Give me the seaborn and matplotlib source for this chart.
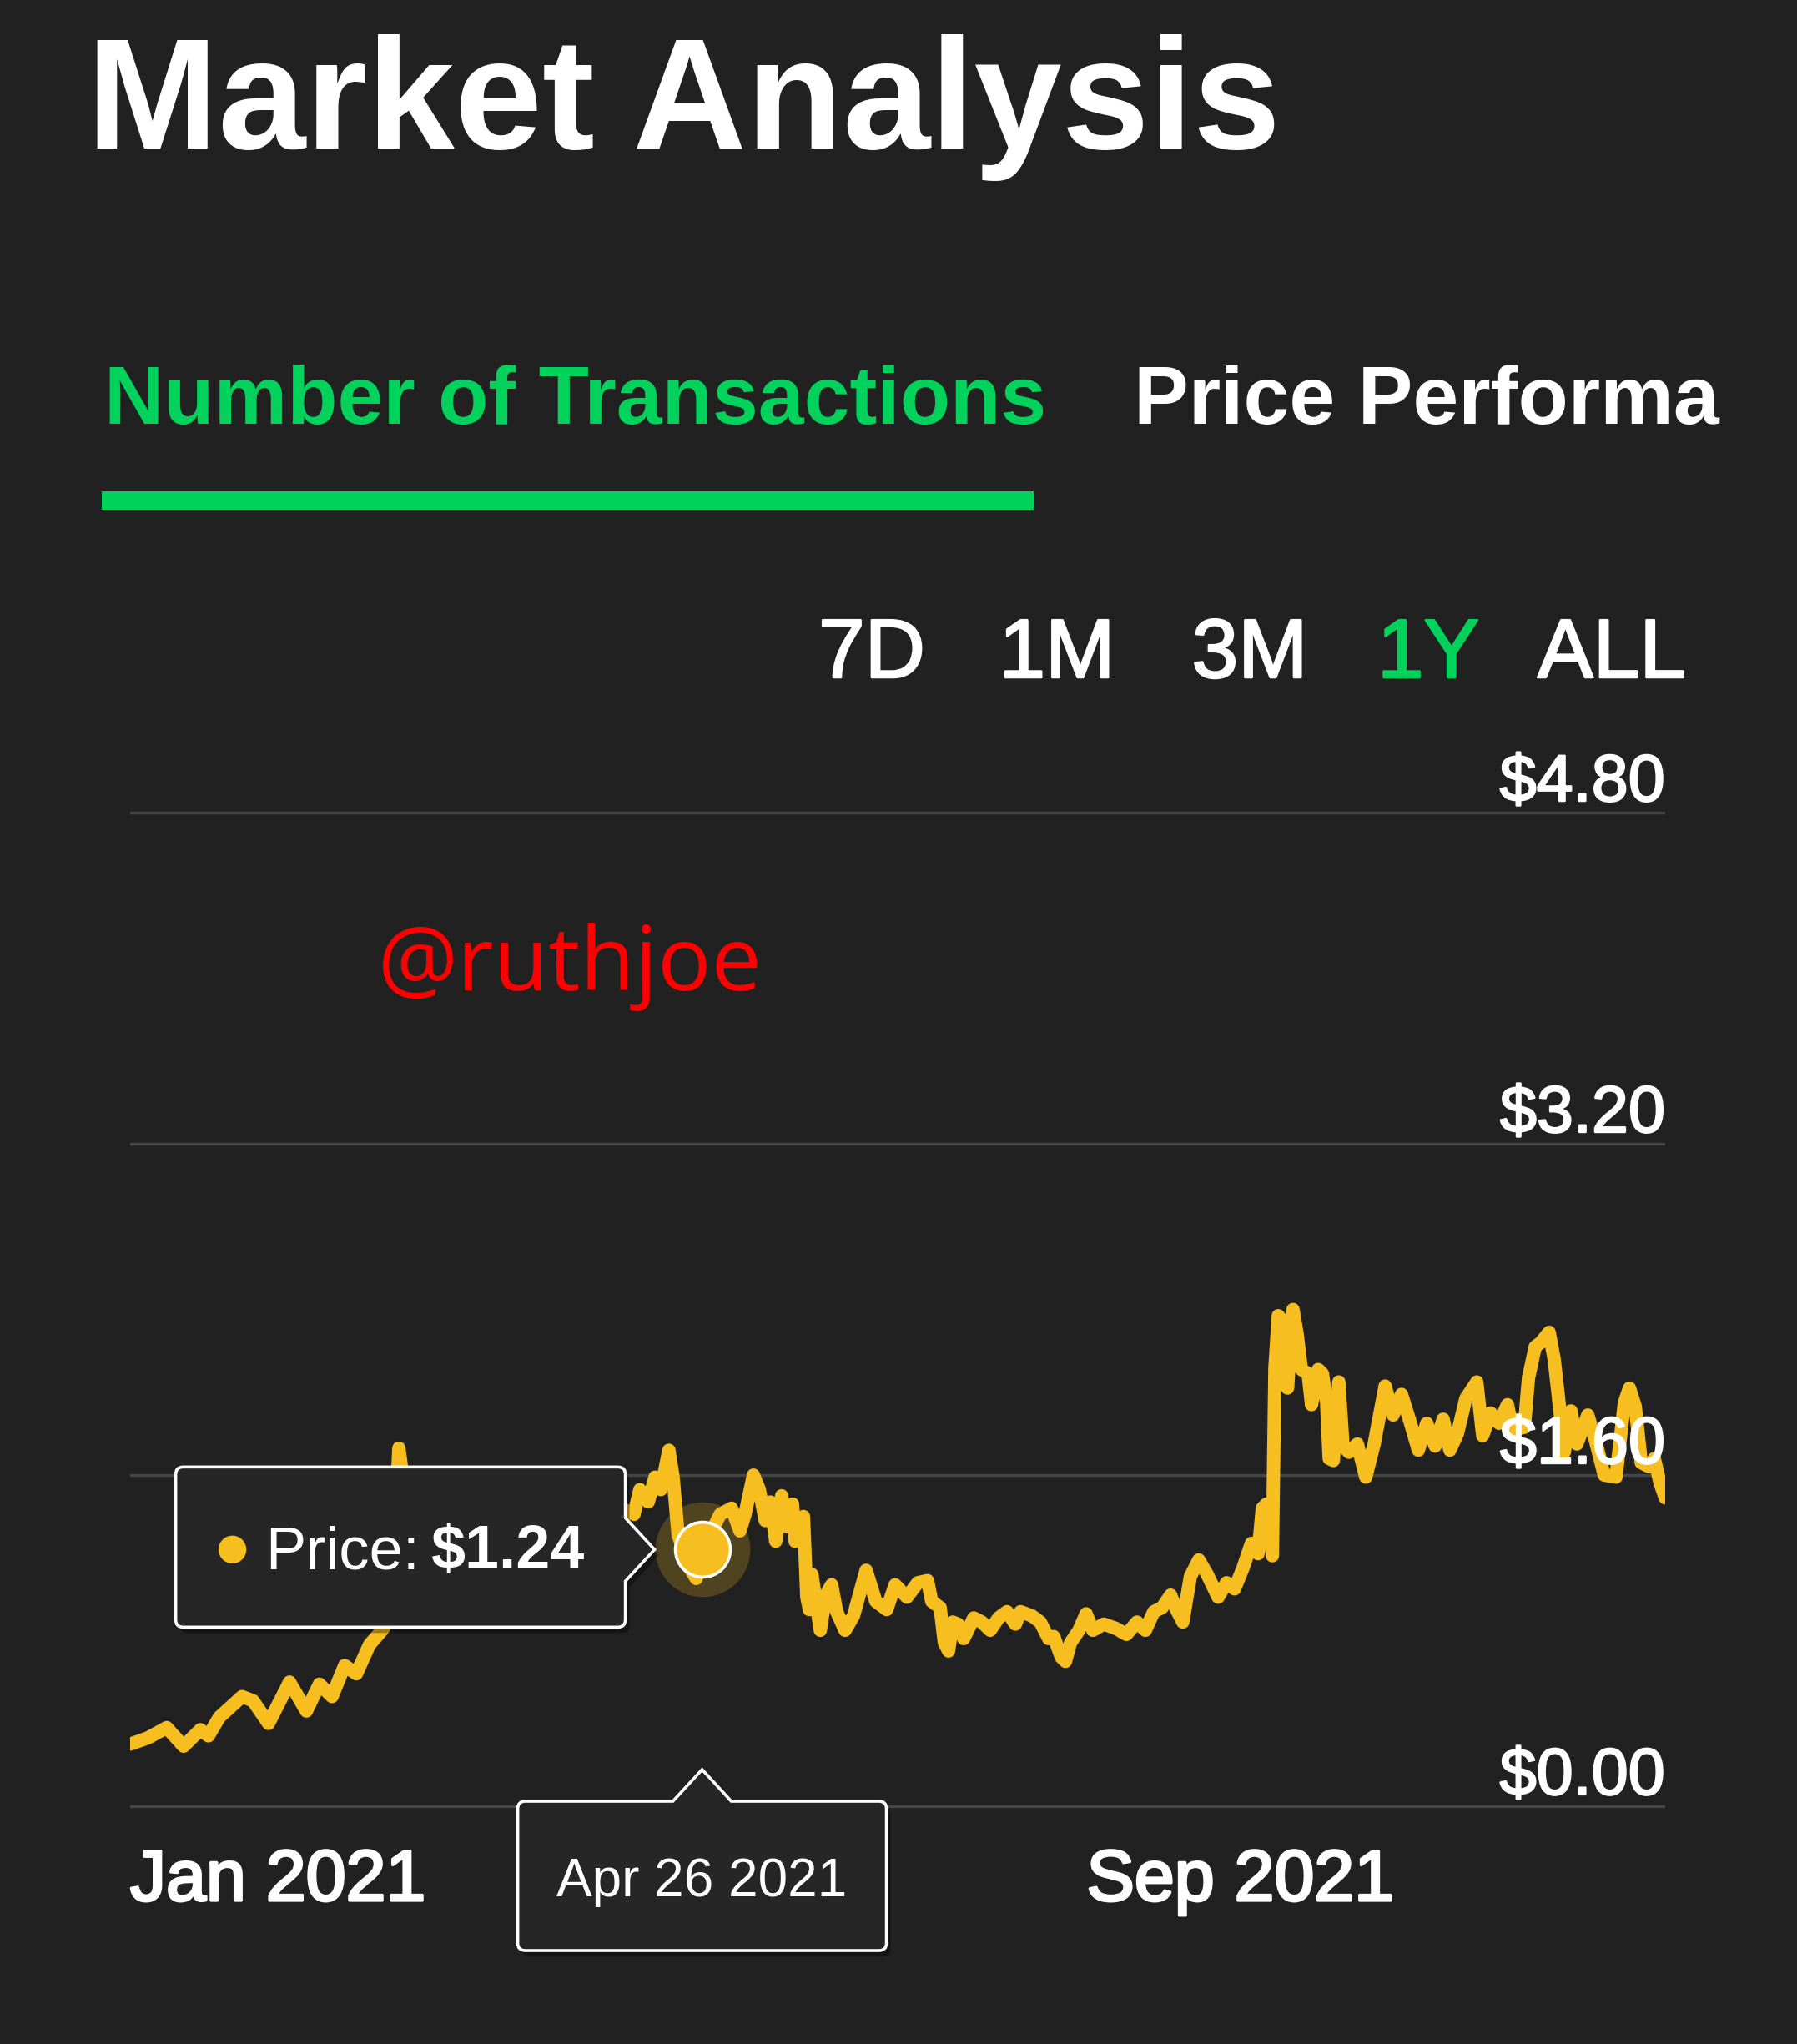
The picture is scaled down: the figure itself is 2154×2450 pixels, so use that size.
import pandas as pd
import matplotlib
matplotlib.use("Agg")
import matplotlib.pyplot as plt
import matplotlib.patheffects as pe
from matplotlib.path import Path
from matplotlib.patches import PathPatch, Rectangle, Circle
from matplotlib.transforms import offset_copy
import seaborn as sns

# values: days after the first point, price in USD
start_date = "2020-12-11"
days = [0, 4.2, 8.7, 12.7, 16.7, 18.6, 21.2, 26.6, 29.2, 32.9, 37.9, 41.9, 45.0, 48.0,
        51.0, 53.8, 56.9, 60.3, 61.9, 63.1, 63.9, 64.9, 66.3, 69.2, 72.2, 76.2, 80.1,
        85.1, 90.1, 96.0, 101.0, 105.9, 110.9, 115.8, 119.8, 121.2, 123.2, 124.8, 126.2,
        128.1, 129.1, 130.3, 133.1, 134.6, 136.0, 138.3, 140.3, 143.0, 145.0, 146.2,
        148.2, 149.6, 151.0, 152.2, 153.5, 154.9, 156.1, 157.5, 158.1, 160.1, 160.9,
        161.5, 162.1, 164.1, 165.4, 166.8, 168.0, 170.0, 172.0, 175.0, 177.3, 179.9,
        181.9, 184.7, 187.3, 189.6, 190.6, 192.6, 193.6, 194.6, 195.6, 196.8, 198.2,
        200.6, 202.5, 204.5, 206.5, 208.5, 210.5, 211.7, 214.4, 216.4, 218.4, 219.6,
        221.4, 222.4, 223.6, 225.6, 227.3, 228.9, 231.5, 234.3, 236.9, 239.4, 241.4,
        243.4, 245.4, 247.4, 248.8, 250.3, 252.1, 254.1, 256.1, 258.7, 260.7, 262.6,
        264.6, 266.6, 268.2, 269.2, 270.2, 271.6, 272.2, 273.0, 274.2, 275.2, 276.5,
        277.5, 278.5, 280.1, 280.9, 282.5, 283.5, 284.5, 285.1, 286.1, 287.4, 288.4,
        289.8, 291.8, 293.8, 295.8, 298.4, 300.3, 302.3, 304.3, 306.3, 308.3, 310.3,
        312.2, 313.8, 315.6, 317.6, 320.2, 321.6, 323.5, 325.5, 327.5, 328.7, 331.5,
        332.5, 334.1, 335.4, 337.4, 338.6, 339.6, 341.0, 342.6, 344.0, 346.6, 348.5,
        350.5, 353.3, 355.3, 356.5, 357.9, 359.3, 361.2, 362.4, 363.8, 365.0]
prices = [0.30, 0.33, 0.38, 0.29, 0.37, 0.34, 0.43, 0.53, 0.51, 0.40, 0.60, 0.46, 0.59, 0.53,
          0.68, 0.64, 0.78, 0.86, 1.05, 1.40, 1.73, 1.58, 1.45, 1.50, 1.32, 1.42, 1.25,
          1.38, 1.30, 1.45, 1.33, 1.48, 1.36, 1.45, 1.41, 1.53, 1.47, 1.59, 1.53,
          1.72, 1.59, 1.31, 1.15, 1.10, 1.24, 1.33, 1.41, 1.44, 1.33, 1.41,
          1.60, 1.53, 1.38, 1.47, 1.28, 1.50, 1.35, 1.46, 1.28, 1.40, 1.01,
          0.95, 1.12, 0.85, 1.02, 1.07, 0.94, 0.85, 0.92, 1.14, 0.99, 0.95,
          1.07, 1.01, 1.08, 1.09, 0.99, 0.96, 0.79, 0.75, 0.89, 0.88, 0.81,
          0.91, 0.89, 0.85, 0.91, 0.94, 0.88, 0.94, 0.92, 0.89, 0.81, 0.82,
          0.72, 0.70, 0.79, 0.85, 0.93, 0.85, 0.88, 0.86, 0.83, 0.89, 0.85,
          0.94, 0.96, 1.02, 0.95, 0.89, 1.11, 1.19, 1.12, 1.01, 1.08, 1.05,
          1.15, 1.27, 1.22, 1.44, 1.46, 1.21, 2.12, 2.37, 2.34, 2.02, 2.40,
          2.28, 2.11, 2.09, 1.94, 2.11, 2.09, 1.95, 1.68, 1.67, 2.05, 1.74,
          1.71, 1.75, 1.59, 1.75, 2.03, 1.89, 1.99, 1.86, 1.72, 1.85, 1.74,
          1.87, 1.72, 1.80, 1.97, 2.05, 1.79, 1.90, 1.85, 1.94, 1.82, 1.83,
          2.07, 2.22, 2.24, 2.29, 2.16, 1.98, 1.71, 1.91, 1.75, 1.89, 1.76,
          1.60, 1.59, 1.95, 2.02, 1.93, 1.66, 1.64, 1.68, 1.56, 1.49]

y_ticks = [0.0, 1.6, 3.2, 4.8]
y_tick_labels = ["$0.00", "$1.60", "$3.20", "$4.80"]
x_tick_dates = ["2021-01-01", "2021-09-01"]
x_tick_labels = ["Jan 2021", "Sep 2021"]
ranges = ["7D", "1M", "3M", "1Y", "ALL"]
active_range = "1Y"
hover_date = "2021-04-26"
hover_price = 1.24

BG = "#212121"
YELLOW = "#F6BE1F"
GREEN = "#00D25B"
GRID = "#454545"
BOX = "#262626"

sns.set_style("dark")
plt.rcParams["font.family"] = ["Liberation Sans", "DejaVu Sans"]

W, H = 2154, 2450
fig = plt.figure(figsize=(W / 100, H / 100), dpi=100, facecolor=BG)

# main price axes
ppd = 248.1  # pixels per dollar
pad = 0.02
ax = fig.add_axes([156 / W, (285 - pad * ppd) / H, 1840 / W, (4.8 + 2 * pad) * ppd / H])
ax.set_facecolor(BG)

t0 = pd.Timestamp(start_date)
df = pd.DataFrame({"date": t0 + pd.to_timedelta(days, unit="D"), "price": prices})

hx = pd.Timestamp(hover_date)
ax.scatter([hx], [hover_price], s=6700, color=YELLOW, alpha=0.22, linewidths=0, zorder=1.5)
sns.lineplot(data=df, x="date", y="price", ax=ax, color=YELLOW, sort=False,
             errorbar=None, zorder=2)
line = ax.lines[-1]
line.set_linewidth(11.5)
line.set_solid_joinstyle("round")
line.set_solid_capstyle("round")
ax.scatter([hx], [hover_price], s=2250, color=YELLOW, edgecolors="white",
           linewidths=2.6, zorder=4)

ax.set_xlim(t0, t0 + pd.Timedelta(days=365))
ax.set_ylim(-pad, 4.8 + pad)
ax.set_yticks(y_ticks)
ax.set_xticks([])
ax.grid(axis="y", color=GRID, linewidth=2.4)
ax.grid(axis="x", visible=False)
ax.tick_params(left=False, bottom=False, labelleft=False, labelbottom=False)
ax.set_xlabel("")
ax.set_ylabel("")
for s in ax.spines.values():
    s.set_visible(False)

medium = [pe.withStroke(linewidth=1.6, foreground="white")]

ytrans = offset_copy(ax.get_yaxis_transform(), fig=fig, x=0, y=14, units="dots")
for v, lab in zip(y_ticks, y_tick_labels):
    ax.text(1.0, v, lab, transform=ytrans, ha="right", va="baseline", color="white",
            fontsize=57, zorder=5, path_effects=medium, clip_on=False)

xlab_fx = [pe.withStroke(linewidth=2.4, foreground="white")]
xtrans = offset_copy(ax.get_xaxis_transform(), fig=fig, x=0, y=-108, units="dots")
for i, (d, lab) in enumerate(zip(x_tick_dates, x_tick_labels)):
    if i == 0:
        # first label is pinned to the left edge of the chart
        ax.text(0.0, 0, lab, transform=offset_copy(ax.transAxes, fig=fig, y=-108,
                units="dots"), ha="left", va="baseline", color="white", fontsize=62,
                path_effects=xlab_fx, clip_on=False)
    else:
        ax.text(pd.Timestamp(d), 0, lab, transform=xtrans, ha="center", va="baseline",
                color="white", fontsize=62, path_effects=xlab_fx, clip_on=False)

# overlay in pixel coordinates for header and tooltips
fig.canvas.draw()
mx, my = ax.transData.transform((matplotlib.dates.date2num(hx), hover_price))
ax0 = ax.transData.transform((0, 0))[1]

ov = fig.add_axes([0, 0, 1, 1], zorder=5)
ov.set_xlim(0, W)
ov.set_ylim(0, H)
ov.axis("off")
ov.patch.set_alpha(0)


def bubble(L, B, R, T, r, notch=None):
    verts, codes = [], []

    def add(p, c):
        verts.append(p)
        codes.append(c)

    def curve(c, p):
        add(c, Path.CURVE3)
        add(p, Path.CURVE3)

    add((L + r, T), Path.MOVETO)
    if notch and notch[0] == "top":
        _, cx, h, ty = notch
        add((cx - h, T), Path.LINETO)
        add((cx, ty), Path.LINETO)
        add((cx + h, T), Path.LINETO)
    add((R - r, T), Path.LINETO)
    curve((R, T), (R, T - r))
    if notch and notch[0] == "right":
        _, cy, h, tx = notch
        add((R, cy + h), Path.LINETO)
        add((tx, cy), Path.LINETO)
        add((R, cy - h), Path.LINETO)
    add((R, B + r), Path.LINETO)
    curve((R, B), (R - r, B))
    add((L + r, B), Path.LINETO)
    curve((L, B), (L, B + r))
    add((L, T - r), Path.LINETO)
    curve((L, T), (L + r, T))
    add((L + r, T), Path.CLOSEPOLY)
    return Path(verts, codes)


def draw_bubble(path):
    sh = Path(path.vertices + [5, -7], path.codes)
    ov.add_patch(PathPatch(sh, facecolor="black", edgecolor="none", alpha=0.35))
    ov.add_patch(PathPatch(path, facecolor=BOX, edgecolor="white", linewidth=2.6,
                           joinstyle="miter"))


# price tooltip
draw_bubble(bubble(mx - 631, my - 93, mx - 92, my + 99, 9, ("right", my, 38, mx - 57)))
ov.add_patch(Circle((mx - 563, my), 16, color=YELLOW))
ov.text(mx - 523, my - 23, "Price:", color="white", fontsize=52, ha="left", va="baseline")
ov.text(mx - 325, my - 23, f"${hover_price:.2f}", color="white", fontsize=53,
        fontweight="bold", ha="left", va="baseline")

# date tooltip
draw_bubble(bubble(mx - 221, ax0 - 173, mx + 221, ax0 + 6, 9, ("top", mx, 35, ax0 + 44)))
ov.text(mx, 177, pd.Timestamp(hover_date).strftime("%b %d %Y"), color="white",
        fontsize=46, ha="center", va="baseline")

# header
ov.text(104, H - 178, "Market Analysis", color="white", fontsize=136, fontweight="bold",
        ha="left", va="baseline")
ov.text(125, H - 508, "Number of Transactions", color=GREEN, fontsize=71, fontweight="bold",
        ha="left", va="baseline")
ov.text(1359, H - 508, "Price Performa", color="white", fontsize=71, fontweight="bold",
        ha="left", va="baseline")
ov.add_patch(Rectangle((122, H - 611), 1117, 22, color=GREEN, linewidth=0))

for cx, lab in zip([1045, 1267, 1498, 1712, 1932], ranges):
    col = GREEN if lab == active_range else "white"
    ov.text(cx, H - 812, lab, color=col, fontsize=72, ha="center", va="baseline",
            path_effects=[pe.withStroke(linewidth=1.8, foreground=col)])

ov.text(453, H - 1187, "@ruthjoe", color="#FF0000", fontsize=77, ha="left", va="baseline",
        family=["Open Sans", "DejaVu Sans"])

fig.savefig("out.png", dpi=100, facecolor=BG)
